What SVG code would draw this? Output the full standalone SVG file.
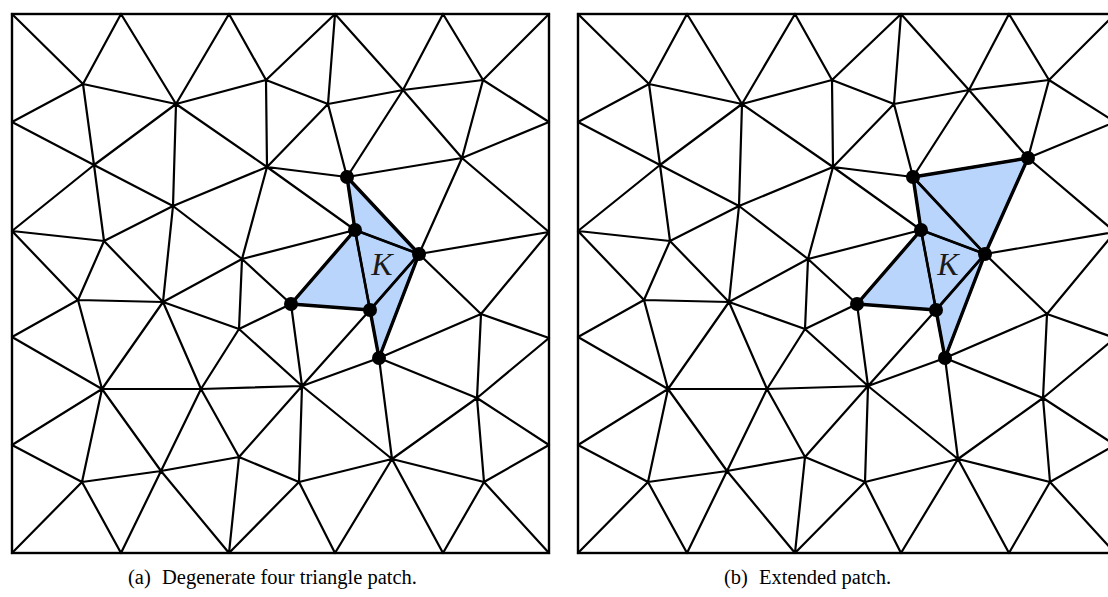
<svg xmlns="http://www.w3.org/2000/svg" xmlns:xlink="http://www.w3.org/1999/xlink" width="1108" height="597" viewBox="0 0 1108 597">
<style>
.mesh{fill:none;stroke:#000;stroke-width:2.2;stroke-linecap:round;stroke-linejoin:round}
.frame{fill:none;stroke:#000;stroke-width:2.4}
.patch{fill:#bad5fb;stroke:none}
.outline{fill:none;stroke:#000;stroke-width:3.4;stroke-linejoin:round;stroke-linecap:round}
.inner{fill:none;stroke:#000;stroke-width:2.7;stroke-linecap:round}
.dot{fill:#000}
.klabel{font-family:"Liberation Serif",serif;font-style:italic;font-size:32px;fill:#1a1a1a;text-anchor:middle}
.cap{font-family:"Liberation Serif",serif;font-size:20.5px;fill:#000}
</style>
<defs>
<path id="meshpath" class="mesh" d="M12 14L83 84M83 84L121 14M121 14L176 104M83 84L176 104M83 84L12 122M83 84L94 165M12 122L94 165M94 165L176 104M176 104L229 14M176 104L267 167M176 104L173 206M94 165L12 231M94 165L104 241M94 165L173 206
M229 14L266 80M266 80L335 14M335 14L328 104M266 80L176 104M266 80L328 104M266 80L267 167M328 104L267 167M328 104L347 177M267 167L347 177M267 167L173 206M267 167L242 259M267 167L355 230
M328 104L403 90M335 14L403 90M443 14L403 90M443 14L483 80M549 14L483 80M403 90L483 80M483 80L549 122M483 80L462 158M403 90L462 158M403 90L347 177M549 122L462 158M347 177L462 158M462 158L419 254M462 158L549 232M419 254L549 232
M347 177L355 230M347 177L419 254
M12 231L104 241M12 231L78 300M104 241L173 206M104 241L78 300M104 241L163 302M173 206L163 302M173 206L242 259M78 300L163 302M78 300L12 337M78 300L102 389M163 302L102 389M163 302L242 259M163 302L239 329M163 302L201 389M12 337L102 389
M242 259L355 230M242 259L291 304M242 259L239 329M239 329L291 304M239 329L201 389M239 329L302 386M291 304L302 386M291 304L355 230M291 304L370 310M355 230L370 310M355 230L419 254M370 310L419 254M370 310L379 358M419 254L379 358M370 310L302 386M379 358L302 386
M419 254L481 314M549 232L481 314M481 314L379 358M481 314L549 338M481 314L477 398M379 358L477 398M379 358L392 459M549 338L477 398M477 398L549 445M477 398L392 459M477 398L484 482M392 459L484 482M484 482L549 445M484 482L549 553M484 482L443 553M392 459L443 553M392 459L302 386M392 459L299 482M392 459L335 553
M302 386L201 389M302 386L239 457M302 386L299 482M201 389L239 457M201 389L102 389M201 389L161 471M239 457L161 471M239 457L299 482M239 457L229 553M299 482L229 553M299 482L335 553M161 471L229 553
M102 389L12 445M102 389L82 482M102 389L161 471M12 445L82 482M82 482L161 471M82 482L12 553M82 482L121 553M161 471L121 553"/>
</defs>

<g id="panel-a">
  <g id="a-patch">
    <polygon class="patch" points="347,177 419,254 379,358 370,310 291,304 355,230"/>
  </g>
  <g id="a-connectors">
    <rect class="frame" x="12" y="14" width="537" height="539"/>
    <use xlink:href="#meshpath" href="#meshpath"/>
    <path class="inner" d="M355 230L419 254M355 230L370 310M370 310L419 254"/>
    <path class="outline" d="M347 177L419 254L379 358L370 310L291 304L355 230Z"/>
  </g>
  <g id="a-nodes">
    <g id="a-A"><circle class="dot" cx="347" cy="177" r="7"/></g>
    <g id="a-C"><circle class="dot" cx="355" cy="230" r="7"/></g>
    <g id="a-E"><circle class="dot" cx="419" cy="254" r="7"/></g>
    <g id="a-B"><circle class="dot" cx="291" cy="304" r="7"/></g>
    <g id="a-D"><circle class="dot" cx="370" cy="310" r="7"/></g>
    <g id="a-F"><circle class="dot" cx="379" cy="358" r="7"/></g>
  </g>
  <text class="klabel" x="382" y="275">K</text>
</g>

<g id="panel-b" transform="translate(566,0)">
  <g id="b-patch">
    <polygon class="patch" points="347,177 462,158 419,254 379,358 370,310 291,304 355,230"/>
  </g>
  <g id="b-connectors">
    <rect class="frame" x="12" y="14" width="537" height="539"/>
    <use xlink:href="#meshpath" href="#meshpath"/>
    <path class="inner" d="M347 177L419 254M355 230L419 254M355 230L370 310M370 310L419 254"/>
    <path class="outline" d="M347 177L462 158L419 254L379 358L370 310L291 304L355 230Z"/>
  </g>
  <g id="b-nodes">
    <g id="b-A"><circle class="dot" cx="347" cy="177" r="7"/></g>
    <g id="b-G"><circle class="dot" cx="462" cy="158" r="7"/></g>
    <g id="b-C"><circle class="dot" cx="355" cy="230" r="7"/></g>
    <g id="b-E"><circle class="dot" cx="419" cy="254" r="7"/></g>
    <g id="b-B"><circle class="dot" cx="291" cy="304" r="7"/></g>
    <g id="b-D"><circle class="dot" cx="370" cy="310" r="7"/></g>
    <g id="b-F"><circle class="dot" cx="379" cy="358" r="7"/></g>
  </g>
  <text class="klabel" x="382" y="275">K</text>
</g>

<g id="captions">
  <text class="cap" x="128" y="584">(a)</text>
  <text class="cap" x="162" y="584">Degenerate four triangle patch.</text>
  <text class="cap" x="724" y="584">(b)</text>
  <text class="cap" x="759" y="584">Extended patch.</text>
</g>
</svg>
